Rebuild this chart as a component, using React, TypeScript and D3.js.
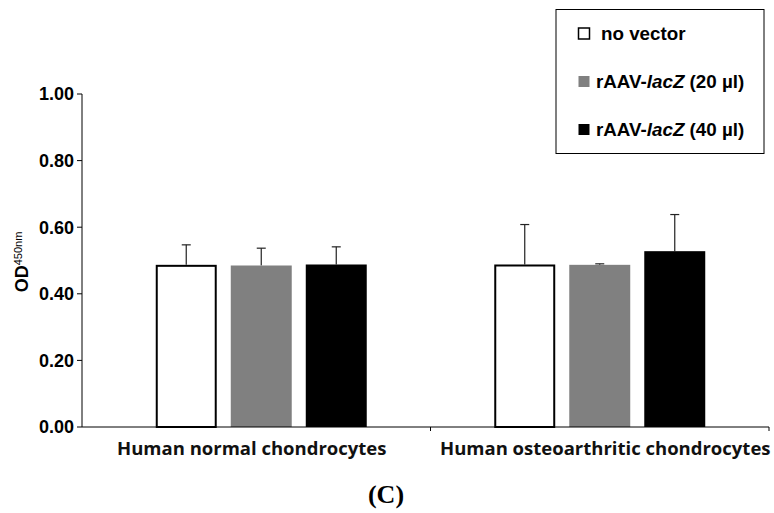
import React from "react";
import * as d3 from "d3";

// data
const categories = ["Human normal chondrocytes", "Human osteoarthritic chondrocytes"];
const seriesNames = ["no vector", "rAAV-lacZ (20 µl)", "rAAV-lacZ (40 µl)"];
const noVector = [0.487, 0.488];
const lacZ20 = [0.485, 0.487];
const lacZ40 = [0.488, 0.528];
const noVectorErr = [0.06, 0.12];
const lacZ20Err = [0.052, 0.003];
const lacZ40Err = [0.053, 0.11];
const yTicks = [0, 0.2, 0.4, 0.6, 0.8, 1.0];

const W = 774;
const H = 513;
const margin = { left: 82, top: 94, right: 5, bottom: 86 };
const plotLeft = 92;
const labelDx = [-2, 8];

const series = [
  { name: seriesNames[0], values: noVector, errs: noVectorErr, fill: "#ffffff", stroke: "#000" },
  { name: seriesNames[1], values: lacZ20, errs: lacZ20Err, fill: "#808080", stroke: "none" },
  { name: seriesNames[2], values: lacZ40, errs: lacZ40Err, fill: "#000000", stroke: "none" },
];

const App = () => {
  // bars sit in these bands
  const x = d3.scaleBand<string>()
    .domain(categories)
    .range([plotLeft, W - margin.right])
    .paddingInner(0)
    .paddingOuter(0);

  // axis labels use the full axis length
  const xLabel = d3.scaleBand<string>()
    .domain(categories)
    .range([margin.left, W - margin.right]);

  const xInner = d3.scaleBand<string>()
    .domain(seriesNames)
    .range([0, x.bandwidth()])
    .paddingInner(0.187)
    .paddingOuter(0.85);

  const y = d3.scaleLinear().domain([0, 1]).range([H - margin.bottom, margin.top]);

  const axisFont = "'Liberation Sans', Arial, sans-serif";

  return (
    <svg width={W} height={H} style={{ position: "absolute", left: 0, top: 0, background: "#fff" }}>
      <rect width={W} height={H} fill="#fff" />

      {/* bars */}
      {series.map((s) =>
        categories.map((c, i) => {
          const bx = (x(c) ?? 0) + (xInner(s.name) ?? 0);
          const bw = xInner.bandwidth();
          const top = y(s.values[i]);
          const cx = bx + bw / 2;
          const errTop = y(s.values[i] + s.errs[i]);
          return (
            <g key={s.name + c}>
              <line x1={cx} x2={cx} y1={top} y2={errTop} stroke="#222" strokeWidth={1.2} />
              <line x1={cx - 4.5} x2={cx + 4.5} y1={errTop} y2={errTop} stroke="#222" strokeWidth={1.2} />
              {s.stroke !== "none" ? (
                <rect x={bx + 1} y={top + 1} width={bw - 2} height={y(0) - top - 1} fill={s.fill} stroke={s.stroke} strokeWidth={2} />
              ) : (
                <rect x={bx} y={top} width={bw} height={y(0) - top} fill={s.fill} />
              )}
            </g>
          );
        })
      )}

      {/* y axis */}
      <line x1={margin.left} x2={margin.left} y1={y(1)} y2={y(0)} stroke="#000" />
      {yTicks.map((t) => (
        <g key={t}>
          <line x1={margin.left - 5} x2={margin.left} y1={y(t)} y2={y(t)} stroke="#000" />
          <text
            x={margin.left - 8}
            y={y(t)}
            dy="0.36em"
            textAnchor="end"
            fontFamily={axisFont}
            fontWeight="bold"
            fontSize={18}
            fill="#000"
          >
            {d3.format(".2f")(t)}
          </text>
        </g>
      ))}

      {/* x axis */}
      <line x1={margin.left} x2={W - margin.right} y1={y(0)} y2={y(0)} stroke="#000" />
      {categories.map((c) => (
        <line key={c} x1={(x(c) ?? 0) + x.bandwidth()} x2={(x(c) ?? 0) + x.bandwidth()} y1={y(0)} y2={y(0) + 4} stroke="#000" />
      ))}
      {categories.map((c, i) => (
        <text
          key={c}
          x={(xLabel(c) ?? 0) + xLabel.bandwidth() / 2 + labelDx[i]}
          y={y(0) + 28}
          textAnchor="middle"
          fontFamily="'Open Sans', sans-serif"
          fontWeight="bold"
          fontSize={18.5}
          fill="#111"
        >
          {c}
        </text>
      ))}

      {/* y axis title */}
      <text
        transform={`translate(28, 262) rotate(-90)`}
        textAnchor="middle"
        fontFamily={axisFont}
        fontWeight="bold"
        fontSize={18}
        fill="#000"
      >
        OD
        <tspan fontSize={11} fontWeight="normal" dy={-6}>450nm</tspan>
      </text>

      {/* legend */}
      <rect x={556} y={9.5} width={208} height={144} fill="#fff" stroke="#000" strokeWidth={1} />
      {series.map((s, i) => (
        <g key={s.name} transform={`translate(578, ${33 + i * 48})`}>
          <rect x={0.5} y={-5} width={11} height={11} fill={s.fill} stroke="#000" strokeWidth={s.stroke === "none" ? 0 : 1.5} />
          <text x={i === 0 ? 23 : 18} y={0} dy="0.36em" fontFamily={axisFont} fontWeight="bold" fontSize={18.8} fill="#000">
            {i === 0 ? (
              s.name
            ) : (
              <>
                rAAV-<tspan fontStyle="italic">lacZ</tspan>
                {s.name.replace("rAAV-lacZ", "")}
              </>
            )}
          </text>
        </g>
      ))}

      {/* panel label */}
      <text x={386} y={503} textAnchor="middle" fontFamily="'Liberation Serif', 'Times New Roman', serif" fontWeight="bold" fontSize={26} fill="#000">
        (C)
      </text>
    </svg>
  );
};

export default App;
